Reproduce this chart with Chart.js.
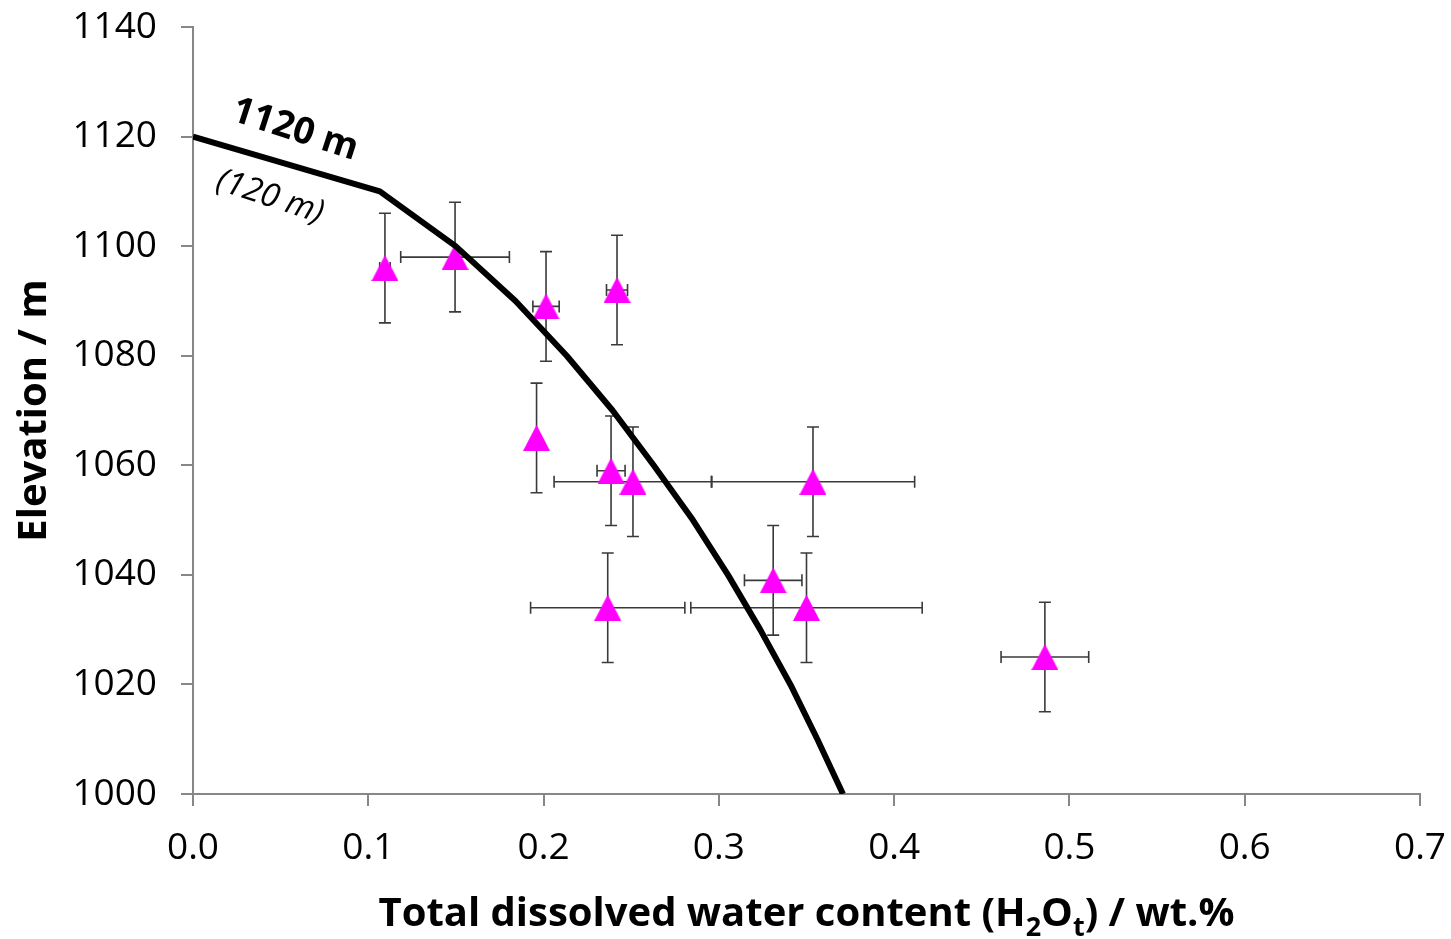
<!DOCTYPE html>
<html>
<head>
<meta charset="utf-8">
<title>Elevation vs dissolved water</title>
<script src="https://cdn.jsdelivr.net/npm/chart.js@4/dist/chart.umd.min.js"></script>
<style>
  html, body { margin: 0; padding: 0; background: #fff; overflow: hidden; }
  #wrap { position: relative; width: 1451px; height: 939px; }
</style>
</head>
<body>
<div id="wrap"><canvas id="chart"></canvas></div>
<script>
// ---- data ----
const xTickLabels = ['0.0', '0.1', '0.2', '0.3', '0.4', '0.5', '0.6', '0.7'];
const yTickLabels = ['1000', '1020', '1040', '1060', '1080', '1100', '1120', '1140'];

// measured samples (H2Ot wt.%, elevation m) with their error bars
const sampleWater = [0.1095, 0.1495, 0.2014, 0.2419, 0.196, 0.2385, 0.251, 0.3537, 0.2366, 0.331, 0.350, 0.486];
const sampleElev  = [1096, 1098, 1089, 1092, 1065, 1059, 1057, 1057, 1034, 1039, 1034, 1025];
const waterErr    = [0.003, 0.031, 0.0075, 0.006, 0, 0.008, 0.045, 0.058, 0.044, 0.0164, 0.066, 0.025];
const elevErr     = [10, 10, 10, 10, 10, 10, 10, 10, 10, 10, 10, 10];

// model degassing curve for a 1120 m vent (120 m)
const modelWater = [0, 0.1066, 0.1498, 0.184, 0.2132, 0.2394, 0.2628, 0.2852, 0.3052, 0.3236, 0.3408, 0.3562, 0.3708];
const modelElev  = [1120, 1110, 1100, 1090, 1080, 1070, 1060, 1050, 1040, 1030, 1020, 1010, 1000];

// ---- helpers ----
const AXIS_GREY = '#878787';
const FONT = "'Open Sans', 'DejaVu Sans', sans-serif";

// triangle marker whose bounding box is centred on the point (like Excel)
function makeTriangle(w, h, color) {
  const c = document.createElement('canvas');
  c.width = w; c.height = h;
  const g = c.getContext('2d');
  g.fillStyle = color;
  g.beginPath();
  g.moveTo(w / 2, 0);
  g.lineTo(w, h);
  g.lineTo(0, h);
  g.closePath();
  g.fill();
  return c;
}
const triangle = makeTriangle(27, 26, '#ff00ff');

// error bars drawn under the markers
const errorBars = {
  id: 'errorBars',
  beforeDatasetsDraw(chart) {
    const { ctx, scales: { x, y } } = chart;
    const cap = 6;
    ctx.save();
    ctx.strokeStyle = '#3a3a3a';
    ctx.lineWidth = 1.6;
    sampleWater.forEach((w, i) => {
      const px = x.getPixelForValue(w);
      const py = y.getPixelForValue(sampleElev[i]);
      const y1 = y.getPixelForValue(sampleElev[i] + elevErr[i]);
      const y2 = y.getPixelForValue(sampleElev[i] - elevErr[i]);
      ctx.beginPath();
      ctx.moveTo(px, y1); ctx.lineTo(px, y2);
      ctx.moveTo(px - cap, y1); ctx.lineTo(px + cap, y1);
      ctx.moveTo(px - cap, y2); ctx.lineTo(px + cap, y2);
      if (waterErr[i] > 0) {
        const x1 = x.getPixelForValue(w - waterErr[i]);
        const x2 = x.getPixelForValue(w + waterErr[i]);
        ctx.moveTo(x1, py); ctx.lineTo(x2, py);
        ctx.moveTo(x1, py - cap); ctx.lineTo(x1, py + cap);
        ctx.moveTo(x2, py - cap); ctx.lineTo(x2, py + cap);
      }
      ctx.stroke();
    });
    ctx.restore();
  }
};

// axis titles (with subscripts) and the curve annotation
const labels = {
  id: 'labels',
  afterDraw(chart) {
    const { ctx, chartArea: a } = chart;
    ctx.save();
    ctx.fillStyle = '#000';

    // y title
    ctx.save();
    ctx.translate(35, (a.top + a.bottom) / 2);
    ctx.rotate(-Math.PI / 2);
    ctx.font = `bold 40px ${FONT}`;
    ctx.textAlign = 'center';
    ctx.textBaseline = 'middle';
    ctx.fillText('Elevation / m', 0, 0);
    ctx.restore();

    // x title: Total dissolved water content (H2Ot) / wt.%
    const big = `bold 40px ${FONT}`, small = `bold 27px ${FONT}`;
    const parts = [
      ['Total dissolved water content (H', big, 0],
      ['2', small, 10],
      ['O', big, 0],
      ['t', small, 10],
      [') / wt.%', big, 0]
    ];
    let total = 0;
    parts.forEach(p => { ctx.font = p[1]; total += ctx.measureText(p[0]).width; });
    let cx = (a.left + a.right) / 2 - total / 2;
    const base = 926;
    ctx.textAlign = 'left';
    ctx.textBaseline = 'alphabetic';
    parts.forEach(p => {
      ctx.font = p[1];
      ctx.fillText(p[0], cx, base + p[2]);
      cx += ctx.measureText(p[0]).width;
    });

    // annotation along the curve
    const ang = 18 * Math.PI / 180;
    ctx.textAlign = 'center';
    ctx.textBaseline = 'middle';
    ctx.save();
    ctx.translate(295, 130);
    ctx.rotate(ang);
    ctx.font = `bold 37px ${FONT}`;
    ctx.fillText('1120 m', 0, 0);
    ctx.restore();
    ctx.save();
    ctx.translate(270, 197);
    ctx.rotate(ang);
    ctx.font = `italic 33px ${FONT}`;
    ctx.fillText('(120 m)', 0, 0);
    ctx.restore();

    ctx.restore();
  }
};

const axisCommon = {
  type: 'linear',
  grid: {
    drawOnChartArea: false,
    drawTicks: true,
    tickLength: 12,
    color: AXIS_GREY,
    lineWidth: 2
  },
  border: { display: true, color: AXIS_GREY, width: 2 }
};

new Chart(document.getElementById('chart'), {
  type: 'scatter',
  data: {
    datasets: [
      {
        label: '1120 m (120 m)',
        data: modelWater.map((w, i) => ({ x: w, y: modelElev[i] })),
        showLine: true,
        borderColor: '#000',
        borderWidth: 6,
        pointRadius: 0,
        tension: 0,
        borderJoinStyle: 'round',
        order: 0
      },
      {
        label: 'Samples',
        data: sampleWater.map((w, i) => ({ x: w, y: sampleElev[i] })),
        pointStyle: triangle,
        pointRadius: 13,
        order: 1
      }
    ]
  },
  options: {
    responsive: true,
    maintainAspectRatio: false,
    animation: false,
    layout: { padding: { top: 27, right: 31, left: 0, bottom: 0 } },
    plugins: {
      legend: { display: false },
      tooltip: { enabled: false }
    },
    scales: {
      x: {
        ...axisCommon,
        position: 'bottom',
        min: 0,
        max: 0.7,
        ticks: {
          stepSize: 0.1,
          color: '#000',
          font: { family: FONT, size: 37 },
          padding: 20,
          maxRotation: 0,
          callback: (v, i) => xTickLabels[i]
        },
        afterFit(scale) {
          scale.height = 145;
          scale.paddingLeft = 0;
          scale.paddingRight = 0;
        }
      },
      y: {
        ...axisCommon,
        position: 'left',
        min: 1000,
        max: 1140,
        ticks: {
          stepSize: 20,
          color: '#000',
          font: { family: FONT, size: 37 },
          padding: 24,
          callback: (v, i) => yTickLabels[i]
        },
        afterFit(scale) {
          scale.width = 193;
          scale.paddingTop = 0;
          scale.paddingBottom = 0;
        }
      }
    }
  },
  plugins: [errorBars, labels]
});
</script>
</body>
</html>
